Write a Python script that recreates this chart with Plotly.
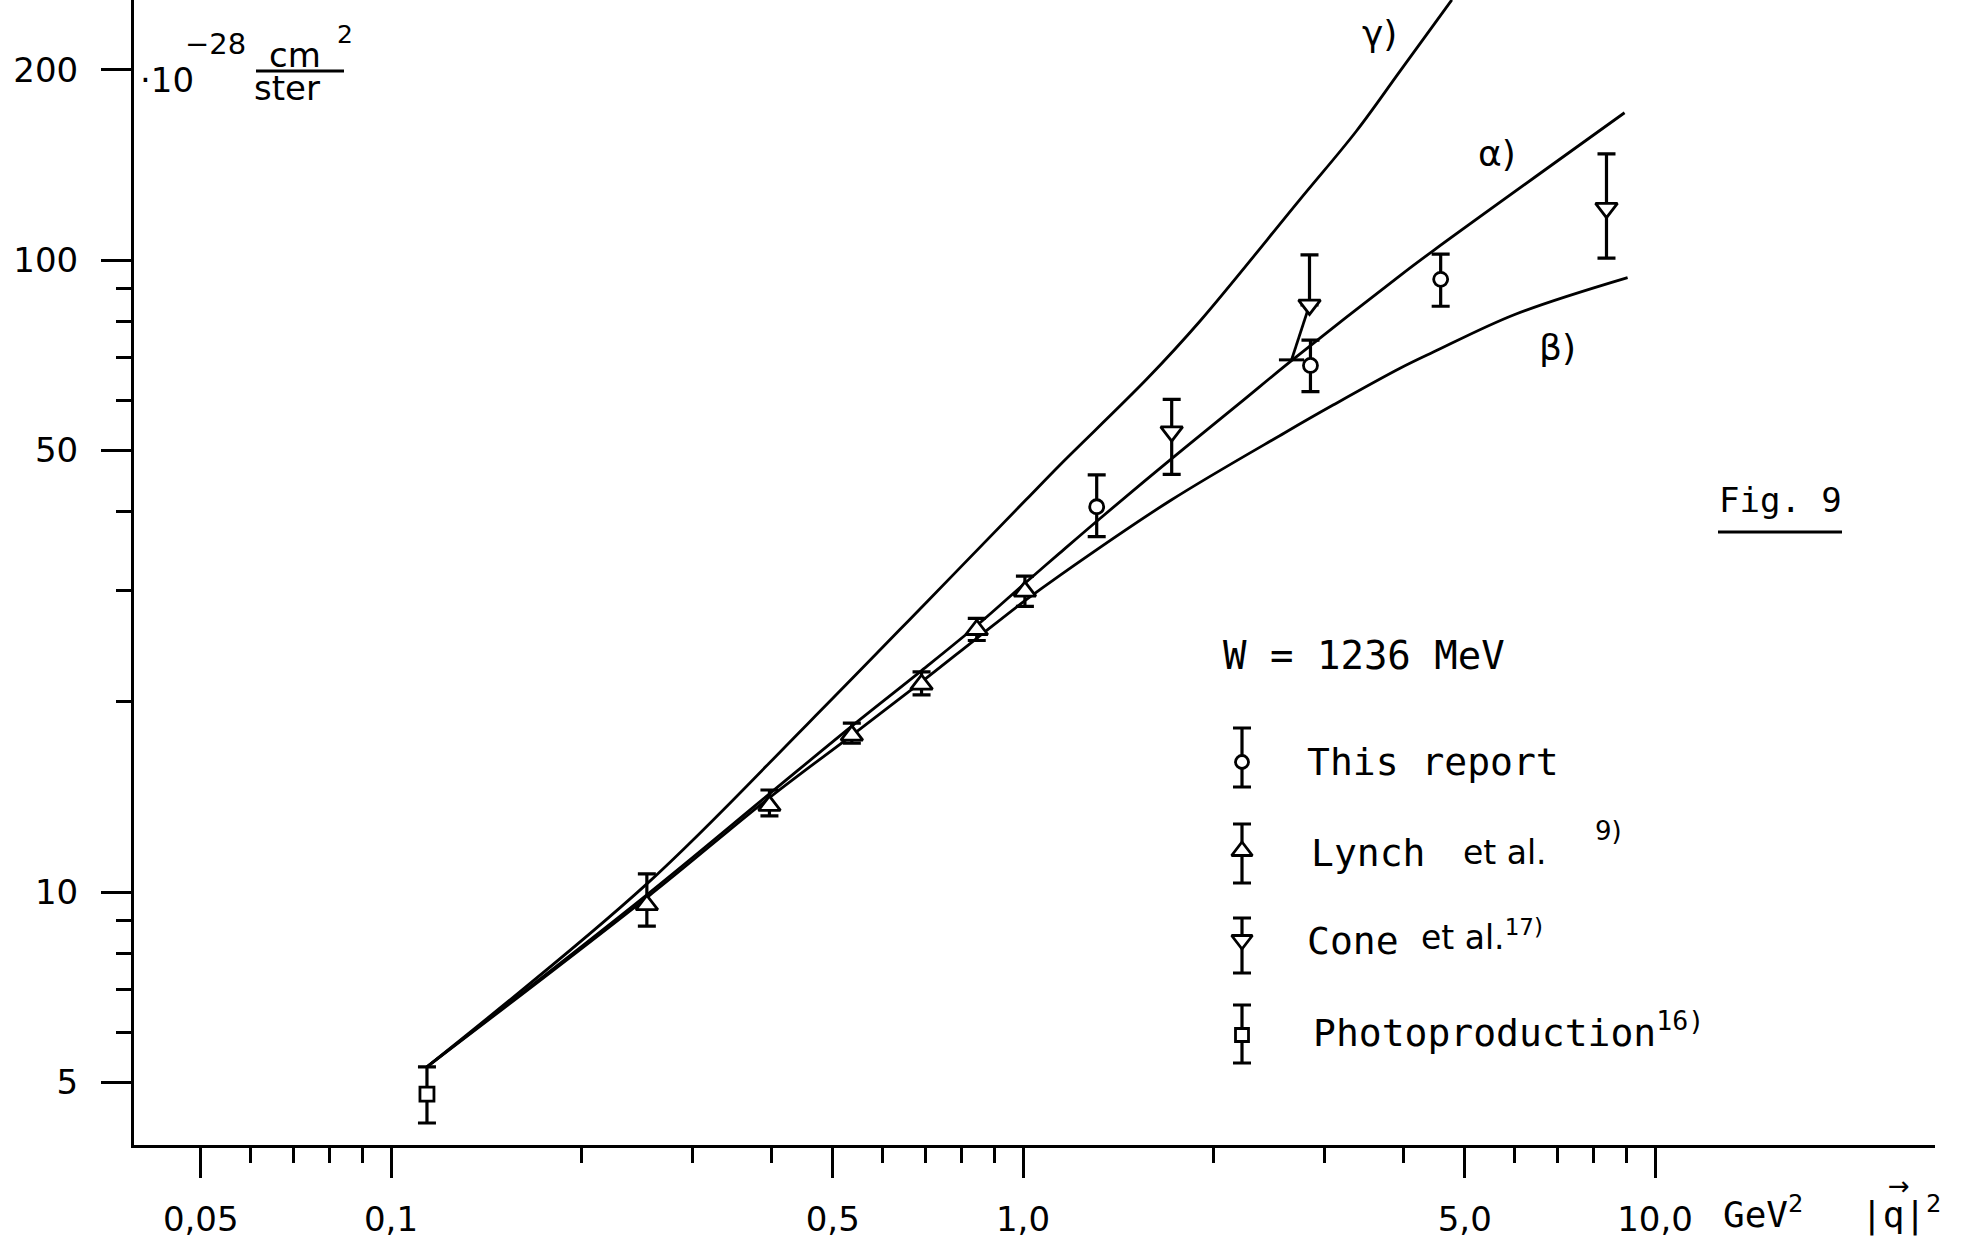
import math
import plotly.graph_objects as go

# ---------------- data ----------------
# theory curves (|q|^2 in GeV^2, cross section in 1e-28 cm^2/ster)
alpha_x = [0.114, 0.254, 0.397, 0.536, 0.691, 0.845, 1.007, 1.144, 1.324, 1.719, 2.20, 2.66, 3.95, 4.46, 8.95]
alpha_y = [5.29, 9.9, 14.3, 18.3, 22.4, 26.4, 30.8, 34.4, 39.0, 48.5, 59.3, 69.3, 94.5, 103.5, 171.0]

beta_x = [0.114, 0.254, 0.397, 0.536, 0.691, 0.845, 1.007, 1.144, 1.709, 2.596, 3.10, 3.95, 4.46, 6.0, 9.05]
beta_y = [5.29, 9.8, 14.1, 17.7, 21.5, 25.2, 28.9, 31.7, 41.6, 53.3, 59.0, 67.4, 71.5, 82.0, 93.8]

gamma_x = [0.114, 0.254, 0.455, 0.705, 1.01, 1.144, 1.57, 1.905, 2.74, 3.37, 3.95, 4.77]
gamma_y = [5.29, 10.3, 18.4, 28.8, 41.7, 47.4, 64.8, 80.0, 124.5, 160.0, 199.0, 258.0]

# measurements: value, upper and lower end of error bar
report_x = [1.308, 2.85, 4.58]
report_y = [40.7, 68.1, 93.2]
report_hi = [45.7, 74.7, 102.2]
report_lo = [36.5, 61.9, 84.5]

lynch_x = [0.254, 0.397, 0.536, 0.691, 0.845, 1.007]
lynch_y = [9.54, 13.7, 17.7, 21.3, 26.0, 29.9]
lynch_hi = [10.68, 14.5, 18.5, 22.3, 27.1, 31.6]
lynch_lo = [8.83, 13.2, 17.2, 20.5, 25.0, 28.3]

cone_x = [1.719, 2.84, 8.38]
cone_y = [53.5, 84.9, 120.8]
cone_hi = [60.2, 101.9, 147.2]
cone_lo = [45.8, 84.9, 100.7]          # middle point: lower bar drawn slanted
cone_slant_x = [2.84, 2.66]
cone_slant_y = [84.9, 69.5]

photo_x = [0.114]
photo_y = [4.79]
photo_hi = [5.29]
photo_lo = [4.31]

x_major = [0.05, 0.1, 0.5, 1.0, 5.0, 10.0]
x_major_text = ["0,05", "0,1", "0,5", "1,0", "5,0", "10,0"]
x_minor = [0.06, 0.07, 0.08, 0.09, 0.2, 0.3, 0.4, 0.6, 0.7, 0.8, 0.9,
           2, 3, 4, 6, 7, 8, 9]
y_major = [5, 10, 50, 100, 200]
y_major_text = ["5", "10", "50", "100", "200"]
y_minor = [6, 7, 8, 9, 20, 30, 40, 60, 70, 80, 90]

# ---------------- layout geometry ----------------
W, H = 1968, 1241
L, R, T, B = 134, 33, 0, 96
PW, PH = W - L - R, H - T - B
DEC = 632.0          # pixels per decade (both axes)
X1_PX = 1023.0       # pixel column of x = 1
Y10_PX = 892.0       # pixel row of y = 10

xrange_log = [(L - X1_PX) / DEC, (L + PW - X1_PX) / DEC]
yrange_log = [1 - (T + PH - Y10_PX) / DEC, 1 + (Y10_PX - T) / DEC]


def px(x, y):
    return (x - L) / PW, (T + PH - y) / PH


SANS = "DejaVu Sans"
MONO = "DejaVu Sans Mono"
INK = "black"

fig = go.Figure()

for cx, cy in [(gamma_x, gamma_y), (alpha_x, alpha_y), (beta_x, beta_y)]:
    fig.add_trace(go.Scatter(x=cx, y=cy, mode="lines",
                             line=dict(color=INK, width=2.8, shape="spline", smoothing=1.0),
                             hoverinfo="skip", showlegend=False))

fig.add_trace(go.Scatter(x=cone_slant_x, y=cone_slant_y, mode="lines",
                         line=dict(color=INK, width=2.8), showlegend=False))
fig.add_trace(go.Scatter(x=cone_slant_x[1:], y=cone_slant_y[1:], mode="markers",
                         marker=dict(symbol="line-ew", size=18, line=dict(color=INK, width=3)),
                         showlegend=False))


def err_trace(xs, ys, hi, lo, symbol, size, xaxis="x", yaxis="y"):
    return go.Scatter(
        x=xs, y=ys, mode="markers", xaxis=xaxis, yaxis=yaxis, showlegend=False,
        marker=dict(symbol=symbol, size=size, color="white", line=dict(color=INK, width=2.8)),
        error_y=dict(type="data", symmetric=False,
                     array=[h - v for h, v in zip(hi, ys)],
                     arrayminus=[v - l for l, v in zip(lo, ys)],
                     color=INK, thickness=3.2, width=9))


fig.add_trace(err_trace(photo_x, photo_y, photo_hi, photo_lo, "square", 14))
fig.add_trace(err_trace(lynch_x, lynch_y, lynch_hi, lynch_lo, "triangle-up", 19))
fig.add_trace(err_trace(report_x, report_y, report_hi, report_lo, "circle", 14))
fig.add_trace(err_trace(cone_x, cone_y, cone_hi, cone_lo, "triangle-down", 19))

# legend glyphs (overlay axes in plot-fraction units)
glyphs = [  # symbol, size, marker row, top cap row, bottom cap row (pixels)
    ("circle", 13, 762, 728, 787),
    ("triangle-up", 18, 851, 824, 883),
    ("triangle-down", 18, 940, 918, 973),
    ("square", 13, 1035, 1005, 1063),
]
GX = 1242
for sym, sz, yc, yt, yb in glyphs:
    gx, gy = px(GX, yc)
    _, gt = px(GX, yt)
    _, gb = px(GX, yb)
    fig.add_trace(err_trace([gx], [gy], [gt], [gb], sym, sz, xaxis="x2", yaxis="y2"))

ann = []


def text(s, x, y, size, family=MONO, xanchor="left"):
    ax, ay = px(x, y)
    ann.append(dict(text=s, x=ax, y=ay, xref="paper", yref="paper", showarrow=False,
                    xanchor=xanchor, yanchor="middle", borderpad=0,
                    font=dict(family=family, size=size, color=INK)))


# unit label at top of y axis
text("·10", 139, 80, 34, SANS)
text("−28", 184, 44, 29, SANS)
text("cm", 268, 55, 34, SANS)
text("2", 336, 34, 25, SANS)
text("ster", 253, 88, 34, SANS)

# legend text
text("W = 1236 MeV", 1222, 655, 39)
text("This report", 1306, 762, 38)
text("Lynch", 1310, 853, 38)
text("et al.", 1462, 853, 33, SANS)
text("9)", 1594, 831, 26, SANS)
text("Cone", 1306, 941, 38)
text("et al.<sup>17)</sup>", 1420, 935, 33, SANS)
text("Photoproduction<sup>16)</sup>", 1312, 1030, 38)
text("Fig. 9", 1780, 500, 34, MONO, "center")

# x axis unit text
text("GeV<sup>2</sup>", 1722, 1212, 36)
text("|q|<sup>2</sup>", 1860, 1212, 36)
text("→", 1899, 1186, 26, SANS, "center")

# curve labels (data coordinates, log axes take log10 positions)
for s, lx, ly in [("γ)", 3.67, 228.0), ("α)", 5.62, 147.5), ("β)", 7.02, 72.8)]:
    ann.append(dict(text=s, x=math.log10(lx), y=math.log10(ly), xref="x", yref="y",
                    showarrow=False, xanchor="center", yanchor="middle",
                    font=dict(family=SANS, size=36, color=INK)))

shapes = []
for (x0, y0, x1, y1) in [(256, 71, 344, 71), (1718, 532, 1842, 532)]:
    a0, b0 = px(x0, y0)
    a1, b1 = px(x1, y1)
    shapes.append(dict(type="line", xref="paper", yref="paper", x0=a0, y0=b0, x1=a1, y1=b1,
                       line=dict(color=INK, width=3)))

axis_common = dict(type="log", showline=True, linewidth=3, linecolor=INK, showgrid=False,
                   zeroline=False, ticks="outside", ticklen=30, tickwidth=3, tickcolor=INK,
                   tickmode="array", mirror=False,
                   tickfont=dict(family=SANS, size=34, color=INK))

fig.update_layout(
    width=W, height=H,
    margin=dict(l=L, r=R, t=T, b=B, pad=0),
    paper_bgcolor="white", plot_bgcolor="white",
    showlegend=False,
    xaxis=dict(**axis_common, range=xrange_log, tickvals=x_major, ticktext=x_major_text,
               ticklabelstandoff=12,
               minor=dict(tickmode="array", tickvals=x_minor, ticks="outside", ticklen=15,
                          tickwidth=3, tickcolor=INK)),
    yaxis=dict(**axis_common, range=yrange_log, tickvals=y_major, ticktext=y_major_text,
               ticklabelstandoff=16,
               minor=dict(tickmode="array", tickvals=y_minor, ticks="outside", ticklen=15,
                          tickwidth=3, tickcolor=INK)),
    xaxis2=dict(overlaying="x", anchor="y2", range=[0, 1], visible=False, fixedrange=True),
    yaxis2=dict(overlaying="y", anchor="x2", range=[0, 1], visible=False, fixedrange=True),
    annotations=ann,
    shapes=shapes,
)

fig.write_html("out.html")
